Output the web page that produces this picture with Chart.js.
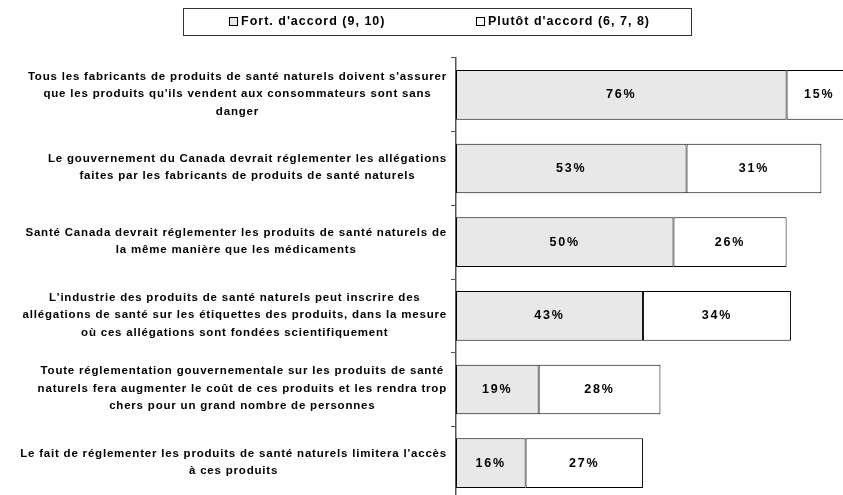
<!DOCTYPE html>
<html><head><meta charset="utf-8">
<script src="https://cdn.jsdelivr.net/npm/chart.js@4.4.1/dist/chart.umd.min.js"></script>
<style>html,body{margin:0;padding:0;overflow:hidden;background:#fff;width:843px;height:495px}
#wrap{position:relative;width:900px;height:505px}</style></head>
<body><div id="wrap"><canvas id="c"></canvas></div>
<script>
const categories = [
 ["Tous les fabricants de produits de santé naturels doivent s'assurer","que les produits qu'ils vendent aux consommateurs sont sans","danger"],
 ["Le gouvernement du Canada devrait réglementer les allégations","faites par les fabricants de produits de santé naturels"],
 ["Santé Canada devrait réglementer les produits de santé naturels de","la même manière que les médicaments"],
 ["L'industrie des produits de santé naturels peut inscrire des","allégations de santé sur les étiquettes des produits, dans la mesure","où ces allégations sont fondées scientifiquement"],
 ["Toute réglementation gouvernementale sur les produits de santé","naturels fera augmenter le coût de ces produits et les rendra trop","chers pour un grand nombre de personnes"],
 ["Le fait de réglementer les produits de santé naturels limitera l'accès","à ces produits"]
];
const seriesNames = ["Fort. d'accord (9, 10)","Plutôt d'accord (6, 7, 8)"];
const fortAccord = [76,53,50,43,19,16];
const plutotAccord = [15,31,26,34,28,27];
const seriesColors = ['#e8e8e8','#ffffff'];

const FONT = 'Arial, "Liberation Sans", sans-serif';

const catLabels = {
 id:'catLabels',
 afterDraw(chart){
  const ctx=chart.ctx, y=chart.scales.y;
  ctx.save();
  ctx.font='bold 11.5px '+FONT;
  ctx.letterSpacing='0.8px';
  ctx.fillStyle='#000'; ctx.textBaseline='middle'; ctx.textAlign='center';
  const right=447, lh=17.5;
  chart.data.labels.forEach((lines,i)=>{
    const cy=y.getPixelForValue(i)-1;
    const w=Math.max(...lines.map(l=>ctx.measureText(l).width));
    const cx=right-w/2;
    lines.forEach((l,j)=>ctx.fillText(l,cx,cy+(j-(lines.length-1)/2)*lh));
  });
  ctx.restore();
 }
};

const valueLabels = {
 id:'valueLabels',
 afterDatasetsDraw(chart){
  const ctx=chart.ctx;
  ctx.save();
  ctx.font='bold 12.5px '+FONT;
  ctx.letterSpacing='1.8px';
  ctx.fillStyle='#000'; ctx.textBaseline='middle'; ctx.textAlign='center';
  chart.data.datasets.forEach((ds,di)=>{
    chart.getDatasetMeta(di).data.forEach((el,i)=>{
      const cx=(el.x+el.base)/2;
      ctx.fillText(ds.data[i]+'%',cx,el.y);
    });
  });
  ctx.restore();
 }
};

const boxLegend = {
 id:'boxLegend',
 afterDraw(chart){
  const ctx=chart.ctx;
  ctx.save();
  ctx.strokeStyle='#333'; ctx.lineWidth=1;
  ctx.strokeRect(183.5,8.5,508,27);
  ctx.font='bold 12.5px '+FONT;
  ctx.letterSpacing='1px';
  ctx.textBaseline='middle'; ctx.textAlign='left';
  const xs=[229,476];
  chart.data.datasets.forEach((ds,i)=>{
    ctx.fillStyle=ds.backgroundColor;
    ctx.fillRect(xs[i]+0.5,17.5,8,8);
    ctx.strokeStyle='#000';
    ctx.strokeRect(xs[i]+0.5,17.5,8,8);
    ctx.fillStyle='#000';
    ctx.fillText(ds.label,xs[i]+12,22);
  });
  ctx.restore();
 }
};

new Chart(document.getElementById('c'),{
 type:'bar',
 data:{labels:categories,datasets:[
  {label:seriesNames[0],data:fortAccord,backgroundColor:seriesColors[0],borderColor:'#000',borderWidth:1,borderSkipped:false},
  {label:seriesNames[1],data:plutotAccord,backgroundColor:seriesColors[1],borderColor:'#000',borderWidth:1,borderSkipped:false}]},
 options:{indexAxis:'y',responsive:true,maintainAspectRatio:false,animation:false,
  layout:{padding:{top:58,bottom:5,left:0,right:9}},
  datasets:{bar:{categoryPercentage:1,barPercentage:0.675}},
  plugins:{legend:{display:false},tooltip:{enabled:false}},
  scales:{
   x:{stacked:true,min:0,max:100,display:false},
   y:{stacked:true,
      grid:{drawOnChartArea:false,drawTicks:true,tickLength:5,color:'#555',offset:true},
      border:{display:true,color:'#555',width:1.5},
      ticks:{display:false},
      afterFit(s){s.width=456;}}
  }},
 plugins:[catLabels,valueLabels,boxLegend]
});
</script></body></html>
